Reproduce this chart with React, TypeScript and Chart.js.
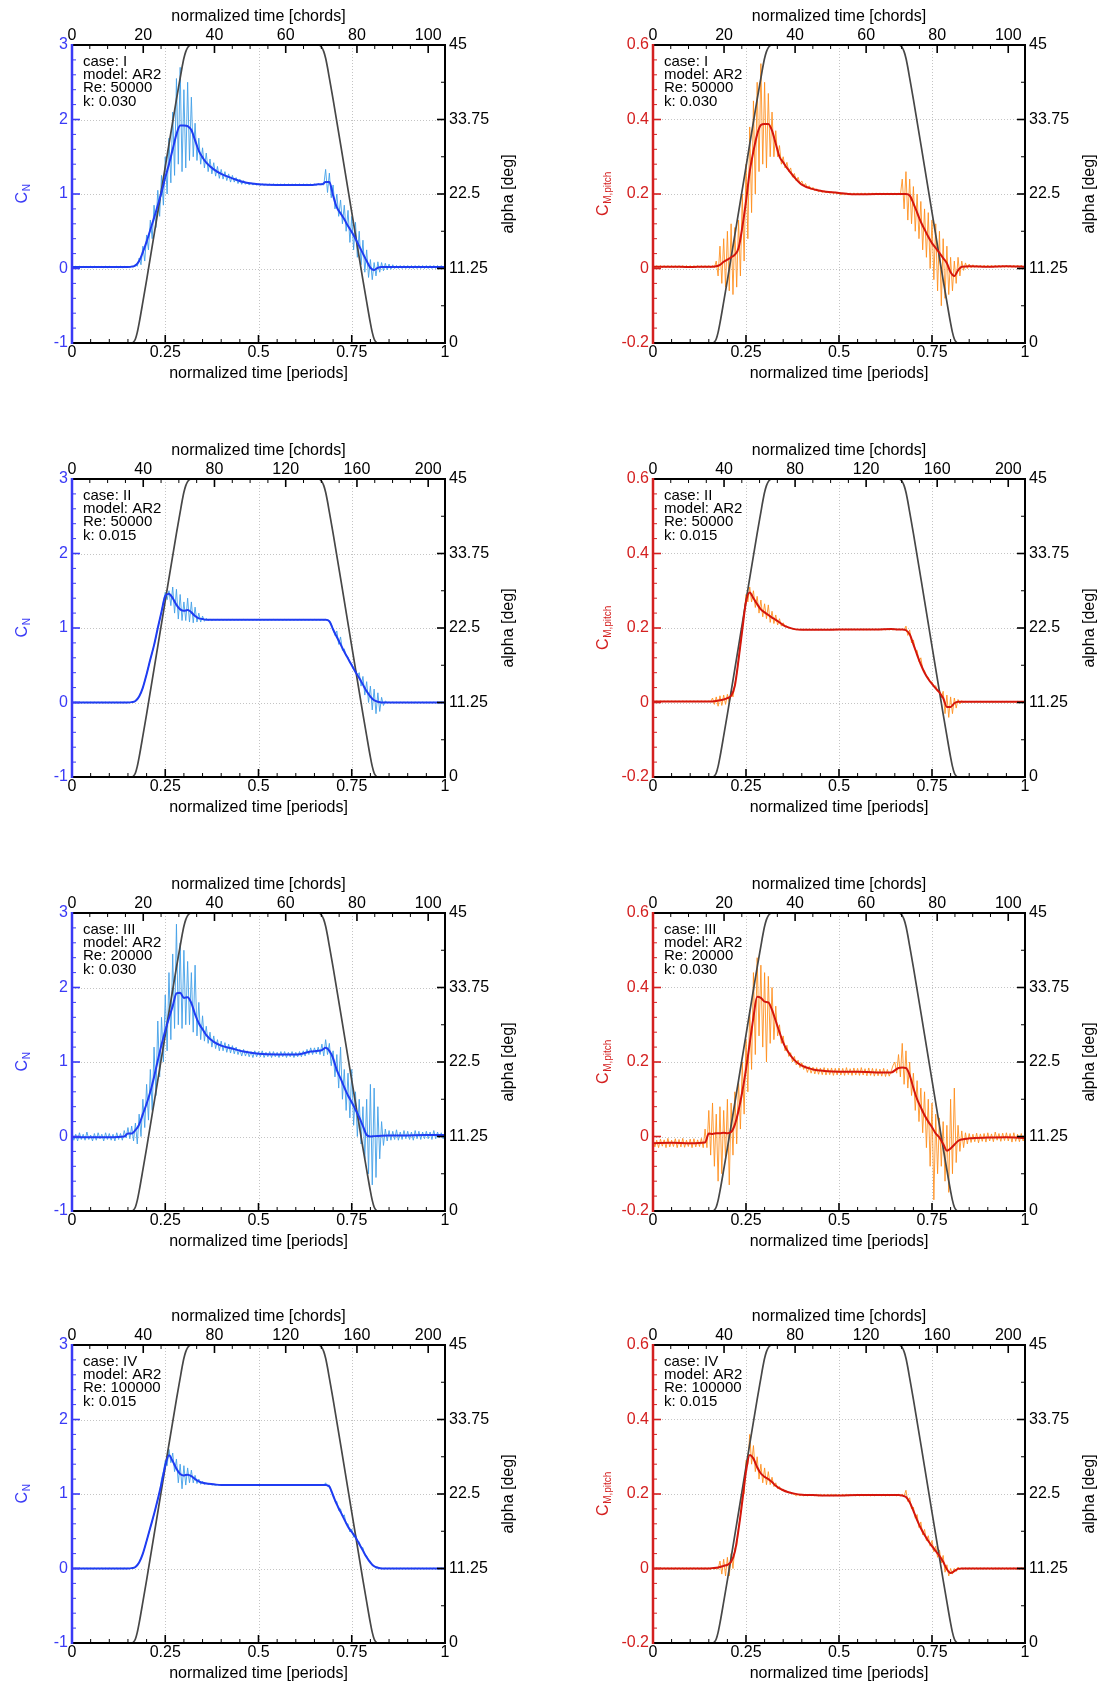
import React, { useEffect, useRef } from "react";
import { Chart, registerables } from "chart.js";
Chart.register(...registerables);

const FONT = "'Liberation Sans', Arial, Helvetica, sans-serif";

// ---------------- text / axis data ----------------
const caseNames = ["I", "II", "III", "IV"];
const reValues = ["50000", "50000", "20000", "100000"];
const kValues = ["0.030", "0.015", "0.030", "0.015"];
const modelName = "AR2";
// one period expressed in chords (pi / k)
const chordMax = [104.72, 209.44, 104.72, 209.44];
const chordStep = [20, 40, 20, 40];
const cnRange = [-1, 3];
const cmRange = [-0.2, 0.6];
const alphaRange = [0, 45];
const periodStep = 0.25;
const cnStep = 1;
const cmStep = 0.2;
const alphaStep = 11.25;

// ---------------- angle of attack (shared) ----------------
const alphaT = [0, 0.16, 0.165, 0.17, 0.175, 0.18, 0.19, 0.2, 0.25, 0.28, 0.29, 0.295, 0.3, 0.305, 0.31, 0.315, 0.32, 0.66, 0.665, 0.67, 0.675, 0.68, 0.685, 0.69, 0.7, 0.73, 0.78, 0.79, 0.8, 0.805, 0.81, 0.815, 0.82, 1];
const alphaV = [0, 0, 0.15, 0.6, 1.6, 3.0, 6.2, 9.5, 26.6, 36.8, 40.0, 41.6, 43.0, 44.0, 44.6, 44.9, 45, 45, 44.9, 44.6, 44.0, 43.0, 41.6, 40.0, 36.8, 26.6, 9.5, 6.2, 3.0, 1.6, 0.6, 0.15, 0, 0];

// ---------------- phase-averaged (mean) curves ----------------
const meanT = [0, 0.05, 0.1, 0.14, 0.15, 0.16, 0.17, 0.18, 0.19, 0.2, 0.21, 0.22, 0.23, 0.24, 0.25, 0.26, 0.27, 0.28, 0.29, 0.3, 0.31, 0.32, 0.33, 0.34, 0.35, 0.36, 0.38, 0.4, 0.43, 0.46, 0.5, 0.55, 0.6, 0.64, 0.66, 0.67, 0.68, 0.69, 0.7, 0.71, 0.72, 0.73, 0.74, 0.75, 0.76, 0.77, 0.78, 0.79, 0.8, 0.81, 0.82, 0.83, 0.85, 0.9, 0.95, 1];

const cnMeanI = [0.02, 0.02, 0.02, 0.02, 0.02, 0.025,
  0.04, 0.1, 0.22, 0.36, 0.52, 0.68, 0.85, 1.02, 1.22, 1.4, 1.6, 1.8, 1.92, 1.92, 1.91, 1.86, 1.72, 1.58, 1.49, 1.42,
  1.33, 1.27, 1.21, 1.16, 1.13, 1.12, 1.12, 1.12, 1.13,
  1.13, 1.16, 1.16, 0.98, 0.82, 0.74, 0.66, 0.57, 0.49, 0.4, 0.3, 0.2, 0.1, 0.01, -0.02, 0.01, 0.02,
  0.02, 0.02, 0.02, 0.02];
const cmMeanI = [0.005, 0.005, 0.004, 0.005, 0.005, 0.005,
  0.006, 0.01, 0.018, 0.024, 0.03, 0.037, 0.055, 0.11, 0.18, 0.26, 0.315, 0.36, 0.385, 0.388, 0.388, 0.37, 0.335, 0.3, 0.285, 0.27,
  0.245, 0.225, 0.213, 0.207, 0.203, 0.199, 0.2, 0.2, 0.2,
  0.2, 0.2, 0.196, 0.175, 0.15, 0.125, 0.105, 0.085, 0.068, 0.055, 0.042, 0.028, 0.014, -0.01, -0.02, -0.005, 0.005,
  0.006, 0.005, 0.006, 0.005];
const cnMeanII = [0, 0, 0, 0, 0, 0.005,
  0.02, 0.08, 0.2, 0.38, 0.58, 0.77, 1.0, 1.22, 1.43, 1.46, 1.4, 1.31, 1.25, 1.23, 1.24, 1.21, 1.16, 1.13, 1.12, 1.11,
  1.11, 1.11, 1.11, 1.11, 1.11, 1.11, 1.11, 1.11, 1.11,
  1.11, 1.11, 1.09, 0.98, 0.88, 0.78, 0.68, 0.59, 0.5, 0.41, 0.33, 0.24, 0.15, 0.08, 0.03, 0.01, 0.0,
  0, 0, 0, 0];
const cmMeanII = [0.003, 0.003, 0.003, 0.003, 0.003, 0.003,
  0.004, 0.006, 0.008, 0.012, 0.018, 0.045, 0.115, 0.195, 0.27, 0.295, 0.28, 0.264, 0.25, 0.242, 0.235, 0.228, 0.222, 0.215, 0.208, 0.203,
  0.197, 0.195, 0.195, 0.195, 0.196, 0.196, 0.196, 0.197, 0.196,
  0.196, 0.194, 0.183, 0.156, 0.128, 0.102, 0.08, 0.063, 0.05, 0.038, 0.027, 0.012, -0.012, -0.012, -0.002, 0.002, 0.002,
  0.002, 0.002, 0.002, 0.002];
const cnMeanIII = [-0.01, -0.01, -0.01, 0.0, 0.04, 0.04,
  0.085, 0.16, 0.3, 0.44, 0.6, 0.8, 1.02, 1.23, 1.42, 1.59, 1.75, 1.92, 1.93, 1.86, 1.87, 1.79, 1.64, 1.52, 1.44, 1.36,
  1.27, 1.22, 1.18, 1.14, 1.11, 1.1, 1.1, 1.14, 1.15,
  1.16, 1.19, 1.15, 1.05, 0.89, 0.78, 0.66, 0.55, 0.46, 0.36, 0.26, 0.14, 0.02, 0.0, 0.005, 0.008, 0.01,
  0.012, 0.015, 0.02, 0.02];
const cmMeanIII = [-0.018, -0.017, -0.018, -0.016, 0.008, 0.007,
  0.009, 0.009, 0.01, 0.009, 0.012, 0.032, 0.07, 0.12, 0.18, 0.25, 0.32, 0.375, 0.372, 0.362, 0.36, 0.34, 0.31, 0.28, 0.252, 0.232,
  0.205, 0.19, 0.18, 0.176, 0.174, 0.174, 0.172, 0.172, 0.184,
  0.185, 0.184, 0.165, 0.13, 0.1, 0.078, 0.057, 0.04, 0.025, 0.008, -0.003, -0.02, -0.038, -0.032, -0.022, -0.012, -0.008,
  -0.005, -0.003, -0.002, -0.004];
const cnMeanIV = [0, 0, 0, 0, 0, 0.005,
  0.02, 0.08, 0.2, 0.37, 0.55, 0.73, 0.93, 1.14, 1.38, 1.52, 1.44, 1.34, 1.27, 1.25, 1.26, 1.24, 1.2, 1.17, 1.15, 1.14,
  1.13, 1.12, 1.12, 1.12, 1.12, 1.12, 1.12, 1.12, 1.12,
  1.12, 1.12, 1.1, 0.98, 0.86, 0.76, 0.66, 0.56, 0.49, 0.42, 0.33, 0.24, 0.15, 0.08, 0.03, 0.01, 0.0,
  0, 0, 0, 0];
const cmMeanIV = [0, 0, 0, 0, 0, 0.001,
  0.002, 0.004, 0.007, 0.01, 0.018, 0.045, 0.105, 0.18, 0.26, 0.305, 0.295, 0.272, 0.255, 0.246, 0.24, 0.232, 0.222, 0.215, 0.21, 0.206,
  0.201, 0.198, 0.197, 0.196, 0.196, 0.197, 0.197, 0.197, 0.197,
  0.196, 0.192, 0.178, 0.155, 0.13, 0.108, 0.09, 0.074, 0.06, 0.047, 0.034, 0.018, -0.002, -0.012, -0.007, -0.001, 0.0,
  0, 0, 0, 0];

// ---------------- raw (unfiltered) signals, sampled every 0.005 period ----------------
const RAW_DT = 0.005;

const cnRawI = [
  0.03, 0.01, 0.03, 0.01, 0.03, 0.01, 0.03, 0.01, 0.03, 0.01,
  0.03, 0.01, 0.03, 0.01, 0.03, 0.01, 0.03, 0.01, 0.03, 0.01,
  0.03, 0.01, 0.03, 0.01, 0.03, 0.01, 0.03, 0.01, 0.03, 0.01,
  0.03, 0.01, 0.03, 0.02, 0.06, 0.03, 0.14, 0.05, 0.3, 0.1,
  0.45, 0.25, 0.65, 0.4, 0.85, 0.55, 1.05, 0.7, 1.25, 0.85,
  1.5, 1.0, 1.75, 1.15, 2.1, 1.25, 2.55, 1.4, 2.7, 1.3,
  2.4, 1.35, 2.5, 1.45, 2.3, 1.5, 1.95, 1.45, 1.75, 1.4,
  1.62, 1.35, 1.55, 1.3, 1.47, 1.27, 1.42, 1.24, 1.37, 1.21,
  1.33, 1.2, 1.3, 1.18, 1.27, 1.16, 1.25, 1.16, 1.22, 1.14,
  1.2, 1.13, 1.18, 1.13, 1.16, 1.12, 1.15, 1.12, 1.14, 1.12,
  1.135, 1.115, 1.135, 1.115, 1.135, 1.115, 1.135, 1.115, 1.135, 1.115,
  1.135, 1.115, 1.135, 1.115, 1.135, 1.115, 1.135, 1.115, 1.135, 1.115,
  1.135, 1.115, 1.135, 1.115, 1.135, 1.115, 1.135, 1.115, 1.135, 1.115,
  1.135, 1.115, 1.14, 1.12, 1.14, 1.12, 1.33, 1.02, 1.28, 0.95,
  1.12, 0.8, 1.0, 0.7, 0.92, 0.6, 0.85, 0.5, 0.78, 0.35,
  0.7, 0.25, 0.62, 0.15, 0.5, 0.05, 0.38, -0.05, 0.25, -0.12,
  0.12, -0.15, 0.08, -0.1, 0.09, -0.05, 0.08, -0.03, 0.07, -0.02,
  0.06, -0.01, 0.05, 0.0, 0.04, 0.0, 0.04, 0.0, 0.04, 0.0,
  0.04, 0.0, 0.04, 0.0, 0.04, 0.0, 0.04, 0.0, 0.04, 0.0,
  0.04, 0.0, 0.04, 0.0, 0.04, 0.0, 0.04, 0.0, 0.04, 0.0,
  0.03];

const cmRawI = [
  0.008, 0.002, 0.008, 0.002, 0.008, 0.002, 0.008, 0.002, 0.008, 0.002,
  0.008, 0.002, 0.008, 0.002, 0.008, 0.002, 0.008, 0.002, 0.008, 0.002,
  0.008, 0.002, 0.008, 0.002, 0.008, 0.002, 0.008, 0.002, 0.008, 0.002,
  0.008, 0.002, 0.008, 0.002, 0.02, -0.02, 0.06, -0.04, 0.08, -0.05,
  0.1, -0.06, 0.12, -0.07, 0.11, -0.05, 0.13, -0.02, 0.2, 0.02,
  0.28, 0.08, 0.38, 0.15, 0.45, 0.2, 0.5, 0.26, 0.55, 0.28,
  0.5, 0.27, 0.47, 0.3, 0.42, 0.3, 0.37, 0.3, 0.33, 0.28,
  0.3, 0.27, 0.285, 0.26, 0.27, 0.245, 0.255, 0.235, 0.245, 0.228,
  0.235, 0.222, 0.228, 0.216, 0.222, 0.212, 0.218, 0.209, 0.214, 0.206,
  0.21, 0.204, 0.209, 0.203, 0.207, 0.202, 0.206, 0.201, 0.205, 0.2,
  0.203, 0.197, 0.203, 0.197, 0.203, 0.197, 0.203, 0.197, 0.203, 0.197,
  0.203, 0.197, 0.203, 0.197, 0.203, 0.197, 0.203, 0.197, 0.203, 0.197,
  0.203, 0.197, 0.203, 0.197, 0.203, 0.197, 0.203, 0.197, 0.203, 0.197,
  0.203, 0.197, 0.203, 0.197, 0.24, 0.16, 0.26, 0.13, 0.24, 0.12,
  0.22, 0.1, 0.2, 0.08, 0.18, 0.05, 0.16, 0.03, 0.15, 0.0,
  0.13, -0.03, 0.12, -0.06, 0.1, -0.1, 0.08, -0.08, 0.06, -0.07,
  0.03, -0.06, 0.02, -0.04, 0.03, -0.02, 0.02, -0.005, 0.015, 0.0,
  0.012, 0.002, 0.01, 0.003, 0.009, 0.003, 0.009, 0.003, 0.009, 0.003,
  0.009, 0.003, 0.009, 0.003, 0.009, 0.003, 0.009, 0.003, 0.009, 0.003,
  0.009, 0.003, 0.009, 0.003, 0.009, 0.003, 0.009, 0.003, 0.009, 0.003,
  0.006];

const cnRawII = [
  0.005, -0.005, 0.005, -0.005, 0.005, -0.005, 0.005, -0.005, 0.005, -0.005,
  0.005, -0.005, 0.005, -0.005, 0.005, -0.005, 0.005, -0.005, 0.005, -0.005,
  0.005, -0.005, 0.005, -0.005, 0.005, -0.005, 0.005, -0.005, 0.005, -0.005,
  0.005, -0.005, 0.005, 0.0, 0.02, 0.04, 0.08, 0.13, 0.2, 0.29,
  0.38, 0.48, 0.58, 0.67, 0.77, 0.88, 1.0, 1.11, 1.22, 1.35,
  1.48, 1.38, 1.5, 1.3, 1.55, 1.2, 1.52, 1.12, 1.45, 1.1,
  1.35, 1.1, 1.4, 1.08, 1.35, 1.07, 1.28, 1.08, 1.2, 1.08,
  1.16, 1.09, 1.13, 1.1, 1.12, 1.1, 1.115, 1.105, 1.115, 1.105,
  1.115, 1.105, 1.115, 1.105, 1.115, 1.105, 1.115, 1.105, 1.115, 1.105,
  1.115, 1.105, 1.115, 1.105, 1.115, 1.105, 1.115, 1.105, 1.115, 1.105,
  1.115, 1.105, 1.115, 1.105, 1.115, 1.105, 1.115, 1.105, 1.115, 1.105,
  1.115, 1.105, 1.115, 1.105, 1.115, 1.105, 1.115, 1.105, 1.115, 1.105,
  1.115, 1.105, 1.115, 1.105, 1.115, 1.105, 1.115, 1.105, 1.115, 1.105,
  1.115, 1.105, 1.115, 1.105, 1.115, 1.105, 1.115, 1.105, 1.1, 1.06,
  0.99, 0.9, 0.96, 0.78, 0.88, 0.7, 0.72, 0.62, 0.61, 0.53,
  0.52, 0.45, 0.44, 0.36, 0.4, 0.22, 0.35, 0.1, 0.28, 0.0,
  0.22, -0.1, 0.18, -0.15, 0.13, -0.12, 0.07, -0.04, 0.02, 0.0,
  0.005, -0.005, 0.005, -0.005, 0.005, -0.005, 0.005, -0.005, 0.005, -0.005,
  0.005, -0.005, 0.005, -0.005, 0.005, -0.005, 0.005, -0.005, 0.005, -0.005,
  0.005, -0.005, 0.005, -0.005, 0.005, -0.005, 0.005, -0.005, 0.005, -0.005,
  0.0];

const cmRawII = [
  0.004, 0.002, 0.004, 0.002, 0.004, 0.002, 0.004, 0.002, 0.004, 0.002,
  0.004, 0.002, 0.004, 0.002, 0.004, 0.002, 0.004, 0.002, 0.004, 0.002,
  0.004, 0.002, 0.004, 0.002, 0.004, 0.002, 0.004, 0.002, 0.004, 0.002,
  0.004, 0.002, 0.012, -0.005, 0.015, -0.01, 0.018, -0.008, 0.02, -0.005,
  0.022, 0.0, 0.03, 0.015, 0.05, 0.075, 0.115, 0.155, 0.195, 0.235,
  0.29, 0.27, 0.31, 0.27, 0.3, 0.255, 0.285, 0.24, 0.275, 0.23,
  0.265, 0.225, 0.262, 0.215, 0.245, 0.212, 0.235, 0.208, 0.225, 0.205,
  0.214, 0.202, 0.206, 0.2, 0.2, 0.197, 0.197, 0.195, 0.197, 0.195,
  0.197, 0.195, 0.197, 0.195, 0.197, 0.195, 0.197, 0.195, 0.197, 0.195,
  0.197, 0.195, 0.197, 0.195, 0.197, 0.195, 0.197, 0.195, 0.197, 0.195,
  0.197, 0.195, 0.197, 0.195, 0.197, 0.195, 0.197, 0.195, 0.197, 0.195,
  0.197, 0.195, 0.197, 0.195, 0.197, 0.195, 0.197, 0.195, 0.197, 0.195,
  0.197, 0.195, 0.197, 0.195, 0.197, 0.195, 0.197, 0.195, 0.197, 0.195,
  0.197, 0.195, 0.197, 0.195, 0.197, 0.195, 0.205, 0.18, 0.195, 0.16,
  0.168, 0.14, 0.14, 0.11, 0.12, 0.09, 0.085, 0.07, 0.068, 0.055,
  0.055, 0.042, 0.045, 0.03, 0.035, 0.012, 0.03, -0.03, 0.02, -0.04,
  0.015, -0.03, 0.012, -0.015, 0.008, -0.004, 0.005, 0.0, 0.003, 0.001,
  0.003, 0.001, 0.003, 0.001, 0.003, 0.001, 0.003, 0.001, 0.003, 0.001,
  0.003, 0.001, 0.003, 0.001, 0.003, 0.001, 0.003, 0.001, 0.003, 0.001,
  0.003, 0.001, 0.003, 0.001, 0.003, 0.001, 0.003, 0.001, 0.003, 0.001,
  0.002];

const cnRawIII = [
  0.04, -0.05, 0.03, -0.06, 0.05, -0.04, 0.03, -0.05, 0.06, -0.04,
  0.02, -0.06, 0.04, -0.05, 0.05, -0.03, 0.03, -0.06, 0.05, -0.04,
  0.04, -0.05, 0.03, -0.06, 0.05, -0.04, 0.04, -0.05, 0.08, -0.02,
  0.12, -0.03, 0.14, -0.06, 0.18, -0.1, 0.3, 0.0, 0.5, 0.12,
  0.7, 0.22, 0.9, 0.35, 1.2, 0.55, 1.55, 0.8, 1.6, 1.0,
  1.9, 1.15, 2.2, 1.3, 2.45, 1.45, 2.85, 1.5, 2.6, 1.45,
  2.5, 1.5, 2.35, 1.5, 2.2, 1.4, 2.3, 1.35, 1.8, 1.3,
  1.62, 1.28, 1.48, 1.25, 1.4, 1.2, 1.35, 1.18, 1.3, 1.15,
  1.28, 1.15, 1.26, 1.13, 1.24, 1.12, 1.22, 1.11, 1.2, 1.1,
  1.17, 1.08, 1.17, 1.08, 1.15, 1.07, 1.14, 1.06, 1.15, 1.07,
  1.14, 1.07, 1.15, 1.06, 1.13, 1.07, 1.14, 1.06, 1.14, 1.07,
  1.13, 1.06, 1.14, 1.07, 1.14, 1.06, 1.13, 1.07, 1.14, 1.06,
  1.13, 1.07, 1.14, 1.07, 1.15, 1.08, 1.17, 1.1, 1.19, 1.1,
  1.19, 1.11, 1.2, 1.1, 1.24, 1.08, 1.3, 1.1, 1.25, 0.95,
  1.15, 0.8, 1.1, 0.65, 1.2, 0.5, 0.9, 0.35, 0.85, 0.25,
  0.9, 0.15, 0.6, 0.0, 0.5, -0.1, 0.4, -0.3, 0.5, -0.5,
  0.7, -0.65, 0.65, -0.55, 0.4, -0.3, 0.2, -0.12, 0.1, -0.06,
  0.08, -0.05, 0.07, -0.04, 0.09, -0.05, 0.06, -0.04, 0.08, -0.03,
  0.07, -0.04, 0.06, -0.05, 0.08, -0.03, 0.07, -0.04, 0.06, -0.03,
  0.07, -0.03, 0.06, -0.04, 0.08, -0.03, 0.06, -0.02, 0.05, -0.03,
  0.04];

const cmRawIII = [
  -0.006, -0.028, -0.01, -0.03, -0.007, -0.026, -0.009, -0.03, -0.005, -0.028,
  -0.01, -0.027, -0.006, -0.03, -0.008, -0.028, -0.005, -0.029, -0.01, -0.027,
  -0.007, -0.03, -0.006, -0.028, -0.009, -0.027, -0.005, -0.03, 0.02, -0.03,
  0.07, -0.05, 0.09, -0.08, 0.06, -0.12, 0.08, -0.1, 0.07, -0.06,
  0.1, -0.13, 0.09, -0.05, 0.12, -0.02, 0.15, 0.02, 0.2, 0.06,
  0.26, 0.12, 0.34, 0.18, 0.44, 0.22, 0.48, 0.27, 0.46, 0.24,
  0.44, 0.2, 0.43, 0.25, 0.4, 0.26, 0.35, 0.27, 0.3, 0.25,
  0.27, 0.23, 0.245, 0.215, 0.225, 0.2, 0.215, 0.192, 0.205, 0.185,
  0.198, 0.18, 0.19, 0.172, 0.188, 0.17, 0.186, 0.168, 0.185, 0.167,
  0.184, 0.166, 0.185, 0.165, 0.183, 0.166, 0.184, 0.164, 0.183, 0.165,
  0.184, 0.165, 0.183, 0.164, 0.185, 0.166, 0.182, 0.164, 0.184, 0.165,
  0.183, 0.164, 0.185, 0.165, 0.182, 0.163, 0.184, 0.164, 0.183, 0.162,
  0.182, 0.163, 0.181, 0.162, 0.183, 0.161, 0.18, 0.162, 0.175, 0.19,
  0.2, 0.17, 0.22, 0.16, 0.25, 0.14, 0.23, 0.13, 0.2, 0.11,
  0.17, 0.07, 0.15, 0.04, 0.13, 0.01, 0.12, -0.03, 0.1, -0.08,
  0.09, -0.17, 0.06, -0.1, 0.05, -0.08, 0.04, -0.12, 0.03, -0.15,
  0.1, -0.1, 0.13, -0.07, 0.03, -0.04, 0.015, -0.03, 0.01, -0.02,
  0.008, -0.016, 0.006, -0.014, 0.009, -0.017, 0.007, -0.013, 0.008, -0.015,
  0.01, -0.012, 0.007, -0.014, 0.012, -0.01, 0.008, -0.013, 0.009, -0.011,
  0.01, -0.012, 0.008, -0.015, 0.01, -0.013, 0.006, -0.014, 0.008, -0.012,
  0.0];

const cnRawIV = [
  0.005, -0.005, 0.005, -0.005, 0.005, -0.005, 0.005, -0.005, 0.005, -0.005,
  0.005, -0.005, 0.005, -0.005, 0.005, -0.005, 0.005, -0.005, 0.005, -0.005,
  0.005, -0.005, 0.005, -0.005, 0.005, -0.005, 0.005, -0.005, 0.005, -0.005,
  0.005, -0.005, 0.005, 0.0, 0.02, 0.05, 0.08, 0.14, 0.2, 0.28,
  0.37, 0.46, 0.55, 0.64, 0.73, 0.83, 0.93, 1.03, 1.2, 1.3,
  1.45, 1.38, 1.6, 1.42, 1.55, 1.3, 1.47, 1.15, 1.4, 1.07,
  1.38, 1.12, 1.35, 1.15, 1.32, 1.15, 1.25, 1.14, 1.2, 1.13,
  1.17, 1.13, 1.15, 1.125, 1.14, 1.12, 1.125, 1.115, 1.125, 1.115,
  1.125, 1.115, 1.125, 1.115, 1.125, 1.115, 1.125, 1.115, 1.125, 1.115,
  1.125, 1.115, 1.125, 1.115, 1.125, 1.115, 1.125, 1.115, 1.125, 1.115,
  1.125, 1.115, 1.125, 1.115, 1.125, 1.115, 1.125, 1.115, 1.125, 1.115,
  1.125, 1.115, 1.125, 1.115, 1.125, 1.115, 1.125, 1.115, 1.125, 1.115,
  1.125, 1.115, 1.125, 1.115, 1.125, 1.115, 1.125, 1.115, 1.125, 1.115,
  1.125, 1.115, 1.125, 1.115, 1.125, 1.115, 1.15, 1.1, 1.12, 1.03,
  1.0, 0.9, 0.9, 0.78, 0.8, 0.7, 0.72, 0.6, 0.6, 0.49,
  0.53, 0.42, 0.46, 0.36, 0.36, 0.28, 0.28, 0.18, 0.17, 0.1,
  0.1, 0.04, 0.04, 0.0, 0.02, 0.0, 0.005, -0.005, 0.005, -0.005,
  0.005, -0.005, 0.005, -0.005, 0.005, -0.005, 0.005, -0.005, 0.005, -0.005,
  0.005, -0.005, 0.005, -0.005, 0.005, -0.005, 0.005, -0.005, 0.005, -0.005,
  0.005, -0.005, 0.005, -0.005, 0.005, -0.005, 0.005, -0.005, 0.005, -0.005,
  0.0];

const cmRawIV = [
  0.002, -0.002, 0.002, -0.002, 0.002, -0.002, 0.002, -0.002, 0.002, -0.002,
  0.002, -0.002, 0.002, -0.002, 0.002, -0.002, 0.002, -0.002, 0.002, -0.002,
  0.002, -0.002, 0.002, -0.002, 0.002, -0.002, 0.002, -0.002, 0.002, -0.002,
  0.002, -0.002, 0.002, -0.002, 0.002, -0.002, 0.02, -0.015, 0.025, -0.02,
  0.03, -0.02, 0.04, 0.0, 0.055, 0.06, 0.11, 0.14, 0.2, 0.2,
  0.29, 0.28, 0.36, 0.28, 0.33, 0.26, 0.3, 0.24, 0.28, 0.23,
  0.27, 0.225, 0.26, 0.225, 0.245, 0.22, 0.23, 0.214, 0.22, 0.21,
  0.213, 0.206, 0.208, 0.203, 0.205, 0.2, 0.199, 0.195, 0.199, 0.195,
  0.199, 0.195, 0.199, 0.195, 0.199, 0.195, 0.199, 0.195, 0.199, 0.195,
  0.199, 0.195, 0.199, 0.195, 0.199, 0.195, 0.199, 0.195, 0.199, 0.195,
  0.199, 0.195, 0.199, 0.195, 0.199, 0.195, 0.199, 0.195, 0.199, 0.195,
  0.199, 0.195, 0.199, 0.195, 0.199, 0.195, 0.199, 0.195, 0.199, 0.195,
  0.199, 0.195, 0.199, 0.195, 0.199, 0.195, 0.199, 0.195, 0.199, 0.195,
  0.199, 0.195, 0.199, 0.195, 0.199, 0.195, 0.21, 0.18, 0.19, 0.16,
  0.165, 0.135, 0.145, 0.11, 0.125, 0.09, 0.105, 0.075, 0.088, 0.06,
  0.075, 0.045, 0.06, 0.03, 0.05, 0.015, 0.035, -0.01, 0.01, -0.02,
  0.0, -0.015, 0.0, -0.008, 0.004, -0.003, 0.002, -0.002, 0.002, -0.002,
  0.002, -0.002, 0.002, -0.002, 0.002, -0.002, 0.002, -0.002, 0.002, -0.002,
  0.002, -0.002, 0.002, -0.002, 0.002, -0.002, 0.002, -0.002, 0.002, -0.002,
  0.002, -0.002, 0.002, -0.002, 0.002, -0.002, 0.002, -0.002, 0.002, -0.002,
  0.0];

const cnMeans = [cnMeanI, cnMeanII, cnMeanIII, cnMeanIV];
const cmMeans = [cmMeanI, cmMeanII, cmMeanIII, cmMeanIV];
const cnRaws = [cnRawI, cnRawII, cnRawIII, cnRawIV];
const cmRaws = [cmRawI, cmRawII, cmRawIII, cmRawIV];

// ---------------- layout / style ----------------
const ROW_TOPS = [45, 479, 913, 1345];
const CANVAS_W = 551;
const CANVAS_H = 386;
const PLOT_TOP = 45;
const PLOT_H = 298;
const COL_LAYOUT = [
  { plotLeft: 72, plotRight: 445, leftTitleX: 21, rightTitleX: 509 },
  { plotLeft: 102, plotRight: 474, leftTitleX: 51, rightTitleX: 539 },
];
const BLUE_AXIS = "#3a3af6";
const RED_AXIS = "#d42020";
const STYLE = {
  cn: { axis: BLUE_AXIS, raw: "rgba(66,160,232,0.9)", mean: "#1f3cf2", sub: "N" },
  cm: { axis: RED_AXIS, raw: "rgba(255,140,24,0.85)", mean: "#d4160c", sub: "M,pitch" },
};

function pairs(xs: number[], ys: number[]) {
  return ys.map((y, i) => ({ x: xs[i], y }));
}
function rawPairs(ys: number[]) {
  return ys.map((y, i) => ({ x: +(i * RAW_DT).toFixed(3), y }));
}

function decorPlugin(kind: "cn" | "cm", row: number, col: number) {
  const st = STYLE[kind];
  const lay = COL_LAYOUT[col];
  const drawTicks = (ctx: CanvasRenderingContext2D, scale: any, sub: number, dir: string, color: string) => {
    const ticks = scale.ticks.map((t: any) => t.value);
    const a = scale.chart.chartArea;
    const seg = (v: number, len: number, w: number) => {
      if (v < scale.min - 1e-9 || v > scale.max + 1e-9) return;
      const p = scale.getPixelForValue(v);
      ctx.lineWidth = w;
      ctx.beginPath();
      if (dir === "up") { ctx.moveTo(p, a.bottom); ctx.lineTo(p, a.bottom - len); }
      if (dir === "down") { ctx.moveTo(p, a.top); ctx.lineTo(p, a.top + len); }
      if (dir === "right") { ctx.moveTo(a.left, p); ctx.lineTo(a.left + len, p); }
      if (dir === "left") { ctx.moveTo(a.right, p); ctx.lineTo(a.right - len, p); }
      ctx.stroke();
    };
    ctx.strokeStyle = color;
    for (let i = 0; i < ticks.length; i++) {
      seg(ticks[i], 8, 1.6);
      if (i < ticks.length - 1) {
        for (let j = 1; j < sub; j++) seg(ticks[i] + ((ticks[i + 1] - ticks[i]) * j) / sub, 4, 1);
      }
    }
  };
  return {
    id: "decor" + kind + row,
    beforeDatasetsDraw(chart: any) {
      const { ctx, chartArea: a, scales } = chart;
      ctx.save();
      ctx.strokeStyle = "#c4c4c4";
      ctx.lineWidth = 1;
      ctx.setLineDash([1, 2]);
      for (const t of scales.x.ticks) {
        if (t.value <= scales.x.min || t.value >= scales.x.max) continue;
        const x = Math.round(scales.x.getPixelForValue(t.value)) + 0.5;
        ctx.beginPath(); ctx.moveTo(x, a.top); ctx.lineTo(x, a.bottom); ctx.stroke();
      }
      for (const t of scales.y.ticks) {
        if (t.value <= scales.y.min + 1e-9 || t.value >= scales.y.max - 1e-9) continue;
        const y = Math.round(scales.y.getPixelForValue(t.value)) + 0.5;
        ctx.beginPath(); ctx.moveTo(a.left, y); ctx.lineTo(a.right, y); ctx.stroke();
      }
      ctx.restore();
    },
    afterDatasetsDraw(chart: any) {
      const { ctx, chartArea: a, scales } = chart;
      ctx.save();
      ctx.setLineDash([]);
      drawTicks(ctx, scales.x, 5, "up", "#000");
      drawTicks(ctx, scales.x2, 4, "down", "#000");
      drawTicks(ctx, scales.y2, 2, "left", "#000");
      drawTicks(ctx, scales.y, 5, "right", st.axis);
      ctx.strokeStyle = "#000";
      ctx.lineWidth = 2;
      ctx.beginPath();
      ctx.moveTo(a.left, a.top); ctx.lineTo(a.right, a.top); ctx.lineTo(a.right, a.bottom); ctx.lineTo(a.left, a.bottom);
      ctx.stroke();
      ctx.strokeStyle = st.axis;
      ctx.lineWidth = 2.5;
      ctx.beginPath(); ctx.moveTo(a.left, a.top - 1); ctx.lineTo(a.left, a.bottom + 1); ctx.stroke();
      ctx.restore();
    },
    afterDraw(chart: any) {
      const { ctx, chartArea: a } = chart;
      ctx.save();
      const yc = (a.top + a.bottom) / 2;
      // left title with subscript
      ctx.translate(lay.leftTitleX, yc);
      ctx.rotate(-Math.PI / 2);
      ctx.fillStyle = st.axis;
      ctx.textBaseline = "alphabetic";
      ctx.textAlign = "left";
      ctx.font = `16px ${FONT}`;
      const wC = ctx.measureText("C").width;
      ctx.font = `10px ${FONT}`;
      const wS = ctx.measureText(st.sub).width;
      const x0 = -(wC + wS) / 2;
      ctx.font = `16px ${FONT}`;
      ctx.fillText("C", x0, 6);
      ctx.font = `10px ${FONT}`;
      ctx.fillText(st.sub, x0 + wC + 0.5, 9);
      ctx.restore();
      // right title
      ctx.save();
      ctx.translate(lay.rightTitleX, yc);
      ctx.rotate(-Math.PI / 2);
      ctx.fillStyle = "#000";
      ctx.font = `16px ${FONT}`;
      ctx.textAlign = "center";
      ctx.textBaseline = "middle";
      ctx.fillText("alpha [deg]", 0, 0);
      ctx.restore();
      // case annotation
      ctx.save();
      ctx.fillStyle = "#000";
      ctx.font = `15px ${FONT}`;
      ctx.textAlign = "left";
      ctx.textBaseline = "middle";
      const lines = ["case: " + caseNames[row], "model: " + modelName, "Re: " + reValues[row], "k: " + kValues[row]];
      lines.forEach((s, i) => ctx.fillText(s, a.left + 11, a.top + 16.5 + i * 13.4));
      ctx.restore();
    },
  };
}

function Panel({ row, col }: { row: number; col: number }) {
  const ref = useRef<HTMLCanvasElement>(null);
  useEffect(() => {
    const kind: "cn" | "cm" = col === 0 ? "cn" : "cm";
    const st = STYLE[kind];
    const lay = COL_LAYOUT[col];
    const range = kind === "cn" ? cnRange : cmRange;
    const step = kind === "cn" ? cnStep : cmStep;
    const mean = kind === "cn" ? cnMeans[row] : cmMeans[row];
    const raw = kind === "cn" ? cnRaws[row] : cmRaws[row];
    const tickFont = { family: FONT, size: 16 };
    const fmt = (v: any) => String(v);
    const chart = new Chart(ref.current as HTMLCanvasElement, {
      type: "line",
      data: {
        datasets: [
          {
            label: "mean",
            data: pairs(meanT, mean),
            borderColor: st.mean,
            borderWidth: 2,
            pointRadius: 0,
            cubicInterpolationMode: "monotone",
            xAxisID: "x",
            yAxisID: "y",
            order: 0,
          },
          {
            label: "alpha",
            data: pairs(alphaT, alphaV),
            borderColor: "#474747",
            borderWidth: 1.7,
            pointRadius: 0,
            cubicInterpolationMode: "monotone",
            xAxisID: "x",
            yAxisID: "y2",
            order: 1,
          },
          {
            label: "raw",
            data: rawPairs(raw),
            borderColor: st.raw,
            borderWidth: 1,
            pointRadius: 0,
            tension: 0,
            xAxisID: "x",
            yAxisID: "y",
            order: 2,
          },
        ],
      } as any,
      options: {
        responsive: false,
        maintainAspectRatio: false,
        devicePixelRatio: 1,
        animation: false,
        events: [],
        layout: { padding: 0 },
        plugins: { legend: { display: false }, tooltip: { enabled: false } },
        scales: {
          x: {
            type: "linear",
            position: "bottom",
            min: 0,
            max: 1,
            grid: { display: false, drawTicks: false },
            border: { display: false },
            ticks: { stepSize: periodStep, color: "#000", font: tickFont, padding: 0, callback: fmt, autoSkip: false, maxRotation: 0 },
            title: { display: true, text: "normalized time [periods]", color: "#000", font: tickFont, padding: { top: 0, bottom: 3 } },
            afterFit: (s: any) => { s.height = CANVAS_H - PLOT_TOP - PLOT_H; },
          },
          x2: {
            type: "linear",
            position: "top",
            min: 0,
            max: chordMax[row],
            grid: { display: false, drawTicks: false },
            border: { display: false },
            ticks: { stepSize: chordStep[row], includeBounds: false, color: "#000", font: tickFont, padding: 0, callback: fmt, autoSkip: false, maxRotation: 0 },
            title: { display: true, text: "normalized time [chords]", color: "#000", font: tickFont, padding: { top: 7, bottom: 0 } },
            afterFit: (s: any) => { s.height = PLOT_TOP; },
          },
          y: {
            type: "linear",
            position: "left",
            min: range[0],
            max: range[1],
            grid: { display: false, drawTicks: false },
            border: { display: false },
            ticks: { stepSize: step, color: st.axis, font: tickFont, padding: 4, callback: fmt, autoSkip: false },
            afterFit: (s: any) => { s.width = lay.plotLeft; },
          },
          y2: {
            type: "linear",
            position: "right",
            min: alphaRange[0],
            max: alphaRange[1],
            grid: { display: false, drawTicks: false },
            border: { display: false },
            ticks: { stepSize: alphaStep, color: "#000", font: tickFont, padding: 4, callback: fmt, autoSkip: false },
            afterFit: (s: any) => { s.width = CANVAS_W - lay.plotRight; },
          },
        },
      } as any,
      plugins: [decorPlugin(kind, row, col)],
    });
    return () => chart.destroy();
  }, [row, col]);
  return (
    <canvas
      ref={ref}
      width={CANVAS_W}
      height={CANVAS_H}
      style={{ position: "absolute", left: col * CANVAS_W, top: ROW_TOPS[row] - PLOT_TOP, width: CANVAS_W, height: CANVAS_H, display: "block" }}
    />
  );
}

export default function App() {
  const cells: React.ReactNode[] = [];
  for (let r = 0; r < 4; r++) for (let c = 0; c < 2; c++) cells.push(<Panel key={`${r}-${c}`} row={r} col={c} />);
  return (
    <div style={{ position: "absolute", left: 0, top: 0, width: 1102, height: 1686, background: "#fff", overflow: "hidden" }}>
      {cells}
    </div>
  );
}
